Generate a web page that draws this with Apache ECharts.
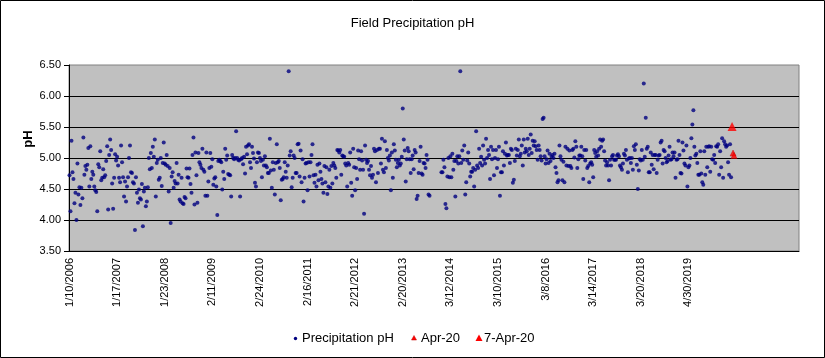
<!DOCTYPE html>
<html>
<head>
<meta charset="utf-8">
<script src="https://cdn.jsdelivr.net/npm/echarts@6/dist/echarts.min.js"></script>
<style>html,body{margin:0;padding:0;background:#fff}#chart{width:825px;height:358px}</style>
</head>
<body>
<div id="chart"></div>
<script>
const tickLabels = ['1/10/2006','1/17/2007','1/23/2008','2/11/2009','2/24/2010','2/16/2011','2/21/2012','2/20/2013','3/12/2014','3/10/2015','3/8/2016','3/14/2017','3/20/2018','4/30/2019'];
const samplesPerTick = 48;
const sampleSlots = 736;
const seriesNames = ['Precipitation pH', 'Apr-20', '7-Apr-20'];

const phSeg1 = [4.72,4.14,5.28,4.77,4.66,4.27,4.44,4.00,4.91,4.41,4.53,4.24,4.52,4.35,5.33,4.73,4.87,4.81,4.89,5.16,4.54,5.19,4.66,4.78,4.73,4.54,4.48,4.45,4.14,4.90,4.85,5.11,4.64,4.68,4.82,4.69,4.72,4.95,5.19,4.17,5.05,5.30,5.13,4.59,4.18,4.68,5.06,4.96,5.02,4.88,4.68,4.61,5.20,4.93,4.69,4.38,4.62,4.30,4.54,4.69,5.00,5.20,4.77,4.76,4.61,4.59,3.84,4.69,4.44,4.28,4.49,4.35,4.33,4.58,3.90,4.46,4.52,4.22,4.30,4.53,5.00,4.82,5.08,4.84,5.18,5.02,5.30,4.38,4.92,4.97,4.65,4.68,5.00,4.55,4.92,5.25];
const phSeg2 = [4.91,4.89,5.05,4.87,4.46,4.84,3.95,4.70,4.77,4.52,4.63,4.59,4.92,4.59,4.73,4.33,4.30,4.68,4.27,4.26,4.37,4.35,4.83,4.69,4.68,4.83,4.58,4.44,5.05,5.33,4.25,5.09,4.72,4.28,5.08,4.93,4.89,4.84,5.15,4.81,4.78,4.39,5.09,4.39,4.62,4.84,5.08,4.86,4.98,4.57,4.67,4.69,4.54,4.08,4.95,4.97,4.95,4.93,4.49,4.78,4.66,5.15,4.97,5.04,4.74,4.73,4.72,4.38,5.05,5.00,4.98,5.00,5.43,5.00,4.97,4.96,4.38,4.98,5.00,4.90,5.02,4.75,5.18,5.06,5.20,5.22,4.93,4.84,5.18,5.08,4.99,4.60,4.54,4.93,5.09];
const phSeg3 = [5.08,5.00,4.95,4.69,4.97,4.88,5.03,4.88,4.85,4.76,4.76,5.31,4.80,4.52,4.93,4.81,4.41,4.92,5.22,4.93,4.95,4.84,4.32,4.65,4.66,4.69,4.93,4.78,4.68,4.88,6.40,5.04,5.11,4.53,4.68,5.04,5.00,4.76,4.76,5.22,5.23,4.70,5.12,4.61,4.98,4.30,4.68,4.91,4.92,4.48,4.93,4.70,4.93,5.05,5.22,4.72,4.60,4.73,4.54,4.89,4.64,4.91,4.78,4.66,4.59,4.44,4.87,4.61,4.85,4.42,4.54,4.81,4.52,4.87,4.59,4.92,4.88,4.84,4.68,5.13,5.12,5.09,5.13,4.73,5.04,5.03,5.02,4.91,4.88,4.54,4.92,4.89,5.09,4.60,4.39];
const phSeg4 = [5.15,4.85,4.48,4.84,4.66,5.12,4.98,4.81,5.11,4.96,4.81,4.10,5.20,4.97,4.92,4.95,4.81,4.72,4.87,4.68,4.73,5.15,5.11,4.61,5.13,4.76,5.15,5.15,4.91,5.31,4.81,4.77,5.27,4.84,5.13,5.00,4.96,5.04,4.48,5.09,4.68,5.22,5.12,4.97,4.85,4.92,4.97,4.88,4.91,5.02,5.80,5.30,5.12,4.62,4.98,5.16,5.11,4.98,4.76,4.98,5.04,4.82,5.13,5.09,4.34,4.39,4.76,4.95,5.18,4.75,4.73,4.92,4.91,4.84,5.05,4.97,4.41,4.39,null,null,null,null,null,null,null,null,null,null,null,4.77,4.77,4.97,4.85,4.26,4.19];
const phSeg5 = [4.70,5.00,4.69,5.03,4.69,5.07,4.81,4.95,4.38,4.95,5.03,4.91,5.03,6.40,4.92,5.12,4.97,5.20,4.41,4.61,4.96,5.09,4.91,4.70,4.78,4.78,4.84,4.54,4.81,5.43,4.88,4.84,5.15,4.92,5.02,4.88,5.20,4.97,4.91,5.31,5.00,5.13,5.05,4.66,5.18,4.98,5.13,4.72,5.00,5.13,4.84,4.98,5.18,4.39,4.77,4.77,5.11,4.88,5.07,5.25,5.04,5.05,5.05,4.92,5.15,5.13,4.60,4.65,4.95,5.15,5.04,5.13,5.30,5.03,5.07,5.20,4.88,5.30,5.09,5.15,5.11,5.31,5.05,5.15,5.38,5.08,5.28,5.20,5.27,5.19,5.13,4.97,5.20,5.13,5.03];
const phSeg6 = [4.96,5.63,5.65,5.03,4.91,4.98,5.12,4.92,5.07,4.95,5.02,5.05,5.00,5.07,4.85,4.76,4.61,4.64,5.20,5.03,4.97,4.64,4.94,4.61,5.18,4.88,5.15,4.87,5.12,4.87,4.84,5.13,5.15,5.01,5.27,5.18,4.84,4.98,5.04,5.04,5.18,5.03,4.66,5.13,4.96,5.13,4.84,4.87,4.61,4.91,4.93,4.89,4.69,5.13,5.08,5.02,5.11,5.04,5.15,5.30,5.18,5.28,5.30,5.11,4.96,4.88,4.93,4.88,4.64,4.97,4.88,5.03,5.05,4.97,4.97,4.97,5.04,5.06,5.03,4.88,4.85,4.81,4.91,5.07,5.04,5.13,4.97,4.77,4.99,5.00,4.92,5.00,4.81,5.19,5.13];
const phSeg7 = [5.22,4.89,4.50,4.80,4.98,4.96,5.13,4.97,6.20,5.02,5.65,5.15,5.18,4.77,4.77,5.09,4.89,5.05,4.82,5.05,5.05,4.76,4.97,5.04,5.05,5.25,5.28,4.91,5.13,5.11,5.00,4.93,4.95,5.04,5.18,4.97,4.98,5.09,5.03,5.09,4.68,4.97,4.98,5.28,5.05,4.76,4.75,5.25,5.12,4.91,4.88,5.20,4.54,4.85,4.88,5.00,5.32,5.54,5.77,5.18,5.04,5.07,4.92,4.73,4.73,5.11,4.75,4.61,4.57,5.11,4.73,5.18,4.85,5.18,5.19,4.78,5.18,4.98,4.97,5.05,4.92,5.19,5.18,5.22,4.73,5.11,4.85,5.32,4.68,5.27,5.22,5.18,5.20,4.93,4.73,5.22,4.69];
const apr20 = [5.08, 5.04];
const apr7_20 = [5.51];

const precip = [].concat(phSeg1, phSeg2, phSeg3, phSeg4, phSeg5, phSeg6, phSeg7).map(v => v === null ? '-' : v);
const categories = Array.from({length: sampleSlots}, (_, i) => String(i));
function placeAt(start, values) {
  const arr = new Array(sampleSlots).fill('-');
  values.forEach((v, j) => { arr[start + j] = v; });
  return arr;
}
const apr7Data = placeAt(precip.length, apr7_20);
const apr20Data = placeAt(precip.length + 1, apr20);

const FONT = 'Liberation Sans, Arial, sans-serif';
const legendText = (x, text) => ({type: 'text', x: x, y: 338,
  style: {text: text, font: '13px ' + FONT, fill: '#000', align: 'left', verticalAlign: 'middle'}});

const chart = echarts.init(document.getElementById('chart'));
chart.setOption({
  animation: false,
  backgroundColor: '#fff',
  title: {
    text: 'Field Precipitation pH', left: 'center', top: 12,
    textStyle: {fontFamily: FONT, fontSize: 13, fontWeight: 'normal', color: '#000'}
  },
  grid: {left: 69, right: 26, top: 65, bottom: 107, show: true, backgroundColor: '#C0C0C0', borderColor: '#808080', borderWidth: 1},
  xAxis: {
    type: 'category', data: categories, boundaryGap: true,
    axisLine: {lineStyle: {color: '#000', width: 1}},
    axisTick: {interval: samplesPerTick - 1, length: 5, lineStyle: {color: '#000'}},
    axisLabel: {
      interval: samplesPerTick - 1, rotate: 90, margin: 7, color: '#000', fontFamily: FONT, fontSize: 11,
      formatter: (val, idx) => (idx % samplesPerTick === 0 ? (tickLabels[idx / samplesPerTick] || '') : '')
    },
    splitLine: {show: false}
  },
  yAxis: {
    type: 'value', min: 3.5, max: 6.5, interval: 0.5,
    axisLine: {show: true, lineStyle: {color: '#000'}},
    axisTick: {show: true, length: 5, lineStyle: {color: '#000'}},
    axisLabel: {formatter: v => v.toFixed(2), color: '#000', fontFamily: FONT, fontSize: 11, margin: 8},
    splitLine: {show: true, showMaxLine: false, showMinLine: false, lineStyle: {color: '#000', width: 1}}
  },
  graphic: [
    {type: 'text', x: 28, y: 139, rotation: Math.PI / 2,
     style: {text: 'pH', font: 'bold 13px ' + FONT, fill: '#000', align: 'center', verticalAlign: 'middle'}},
    {type: 'rect', shape: {x: 0.5, y: 0.5, width: 824, height: 357}, style: {fill: 'none', stroke: '#000', lineWidth: 1}, silent: true},
    {type: 'circle', shape: {cx: 295.5, cy: 338.5, r: 1.7}, style: {fill: '#000080'}},
    legendText(302, seriesNames[0]),
    {type: 'polygon', shape: {points: [[414, 335.5], [416.5, 340], [411.5, 340]]}, style: {fill: '#FF0000', stroke: '#C00000', lineWidth: 0.5}},
    legendText(421, seriesNames[1]),
    {type: 'polygon', shape: {points: [[479, 334.5], [482.5, 341], [475.5, 341]]}, style: {fill: '#FF0000'}},
    legendText(484, seriesNames[2])
  ],
  series: [
    {name: seriesNames[0], type: 'scatter', data: precip, symbol: 'circle', symbolSize: 4,
     itemStyle: {color: '#000080'}},
    {name: seriesNames[1], type: 'scatter', data: apr20Data, symbol: 'triangle', symbolSize: 6,
     itemStyle: {color: '#FF0000', borderColor: '#C00000', borderWidth: 0.5}},
    {name: seriesNames[2], type: 'scatter', data: apr7Data, symbol: 'triangle', symbolSize: 9,
     itemStyle: {color: '#FF0000'}}
  ]
});
</script>
</body>
</html>
